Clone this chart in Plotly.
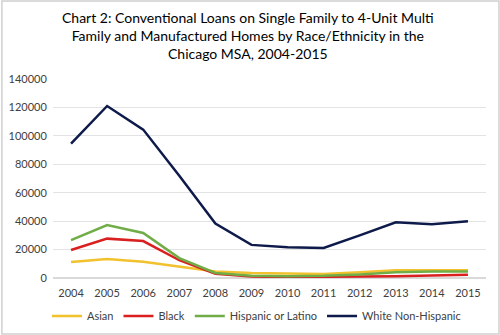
import plotly.graph_objects as go

years = ["2004", "2005", "2006", "2007", "2008", "2009", "2010", "2011", "2012", "2013", "2014", "2015"]
asian = [11200, 13400, 11500, 8000, 4500, 3500, 3000, 2800, 4000, 5500, 5500, 5500]
black = [19700, 27700, 26000, 12500, 3000, 1000, 700, 700, 800, 1200, 1800, 2200]
hispanic = [26700, 37300, 31700, 14000, 3500, 1500, 1200, 1500, 2500, 4000, 4500, 4500]
white = [94500, 121000, 104400, 72000, 38300, 23300, 21600, 21100, 30000, 39200, 37800, 39900]

series = [
    ("Asian", asian, "#F2C12E"),
    ("Black", black, "#D9201F"),
    ("Hispanic or Latino", hispanic, "#70AD47"),
    ("White Non-Hispanic", white, "#0D1A4A"),
]

title_text = ("Chart 2: Conventional Loans on Single Family to 4-Unit Multi<br>"
              "Family and Manufactured Homes by Race/Ethnicity in the<br>"
              "Chicago MSA, 2004-2015")

fig = go.Figure()
for name, vals, col in series:
    fig.add_trace(go.Scatter(x=years, y=vals, name=name, mode="lines",
                             line=dict(color=col, width=2.5)))

fig.update_layout(
    width=500, height=335,
    margin=dict(l=53, r=14, t=79, b=57, autoexpand=False),
    paper_bgcolor="white", plot_bgcolor="white",
    font=dict(family="Lato, Liberation Sans, sans-serif", color="#595959", size=11),
    showlegend=True,
    legend=dict(orientation="h", x=0.47, xanchor="center", yref="container", y=0.057,
                yanchor="middle", font=dict(size=11, color="#404040"), tracegroupgap=0,
                itemwidth=30),
    xaxis=dict(type="category", range=[-0.5, 11.5], showgrid=False, showline=False,
               ticks="outside", ticklen=5, tickcolor="rgba(0,0,0,0)",
               tickfont=dict(size=11, color="#404040"), zeroline=False),
    yaxis=dict(range=[0, 140000], dtick=20000, showgrid=True, gridcolor="#E3E3E3",
               gridwidth=1, zeroline=True, zerolinecolor="#D9D9D9", ticks="outside",
               ticklen=3, tickcolor="rgba(0,0,0,0)",
               tickformat="d", tickfont=dict(size=11, color="#404040"), showline=False),
    annotations=[dict(text=title_text, xref="paper", yref="paper", x=0.45, y=1.36,
                      xanchor="center", yanchor="top", showarrow=False, align="center",
                      font=dict(size=14, color="#000000", family="Lato, Liberation Sans, sans-serif"))],
    shapes=[dict(type="rect", xref="paper", yref="paper", x0=-0.118, x1=1.03, y0=-0.282, y1=1.392,
                 line=dict(color="#D0D0D0", width=1.5))],
)
fig.write_html("out.html")
